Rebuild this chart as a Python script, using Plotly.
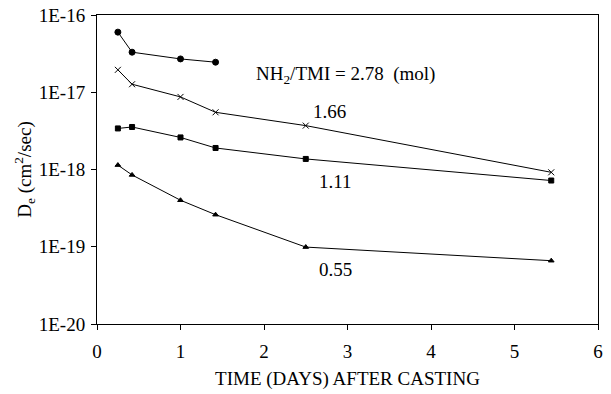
import plotly.graph_objects as go

x_278 = [0.25, 0.42, 1.0, 1.42]
y_278 = [6.0e-17, 3.3e-17, 2.7e-17, 2.45e-17]

x_166 = [0.25, 0.42, 1.0, 1.42, 2.5, 5.44]
y_166 = [1.95e-17, 1.27e-17, 8.7e-18, 5.5e-18, 3.7e-18, 9.2e-19]

x_111 = [0.25, 0.42, 1.0, 1.42, 2.5, 5.44]
y_111 = [3.4e-18, 3.55e-18, 2.6e-18, 1.9e-18, 1.37e-18, 7.2e-19]

x_055 = [0.25, 0.42, 1.0, 1.42, 2.5, 5.44]
y_055 = [1.14e-18, 8.5e-19, 4.0e-19, 2.6e-19, 9.9e-20, 6.6e-20]

y_tickvals = [1e-20, 1e-19, 1e-18, 1e-17, 1e-16]
y_ticktext = ["1E-20", "1E-19", "1E-18", "1E-17", "1E-16"]

font = "Liberation Serif, Times New Roman, serif"

fig = go.Figure()
series = [
    (x_278, y_278, "circle", 6),
    (x_166, y_166, "x-thin", 6),
    (x_111, y_111, "square", 5),
    (x_055, y_055, "triangle-up", 5),
]
for xs, ys, sym, sz in series:
    fig.add_trace(go.Scatter(
        x=xs, y=ys, mode="lines+markers",
        line=dict(color="black", width=1),
        marker=dict(symbol=sym, size=sz, color="black",
                    line=dict(color="black", width=1)),
        showlegend=False, cliponaxis=False,
    ))

annots = [
    (2.97, -16.78, "NH<sub>2</sub>/TMI = 2.78  (mol)"),
    (2.78, -17.25, "1.66"),
    (2.86, -18.16, "1.11"),
    (2.86, -19.29, "0.55"),
]
for ax, ay, txt in annots:
    fig.add_annotation(x=ax, y=ay, text=txt, showarrow=False,
                       font=dict(family=font, size=19, color="black"))

# page body has an 8px margin, so the figure is offset by 8px
fig.update_layout(
    width=603, height=386,
    margin=dict(l=89, r=13, t=7, b=70),
    plot_bgcolor="white", paper_bgcolor="white",
    font=dict(family=font, size=19, color="black"),
)
fig.update_xaxes(
    range=[0, 6], tickvals=[0, 1, 2, 3, 4, 5, 6],
    showgrid=False, zeroline=False, automargin=False,
    showline=True, linecolor="black", linewidth=1, mirror=True,
    ticks="outside", ticklen=5, tickcolor="black",
    ticklabelstandoff=5, ticklabeloverflow="allow",
    tickfont=dict(family=font, size=19, color="black"),
    title=dict(text="TIME (DAYS) AFTER CASTING", font=dict(family=font, size=19, color="black"), standoff=10),
)
fig.update_yaxes(
    type="log", range=[-20, -16],
    tickvals=y_tickvals, ticktext=y_ticktext,
    showgrid=False, zeroline=False, automargin=False,
    showline=True, linecolor="black", linewidth=1, mirror=True,
    ticks="outside", ticklen=5, tickcolor="black",
    ticklabelstandoff=2, ticklabeloverflow="allow",
    tickfont=dict(family=font, size=19, color="black"),
    title=dict(text="D<sub>e</sub> (cm<sup>2</sup>/sec)", font=dict(family=font, size=19, color="black"), standoff=2),
)

fig.write_html("out.html")
